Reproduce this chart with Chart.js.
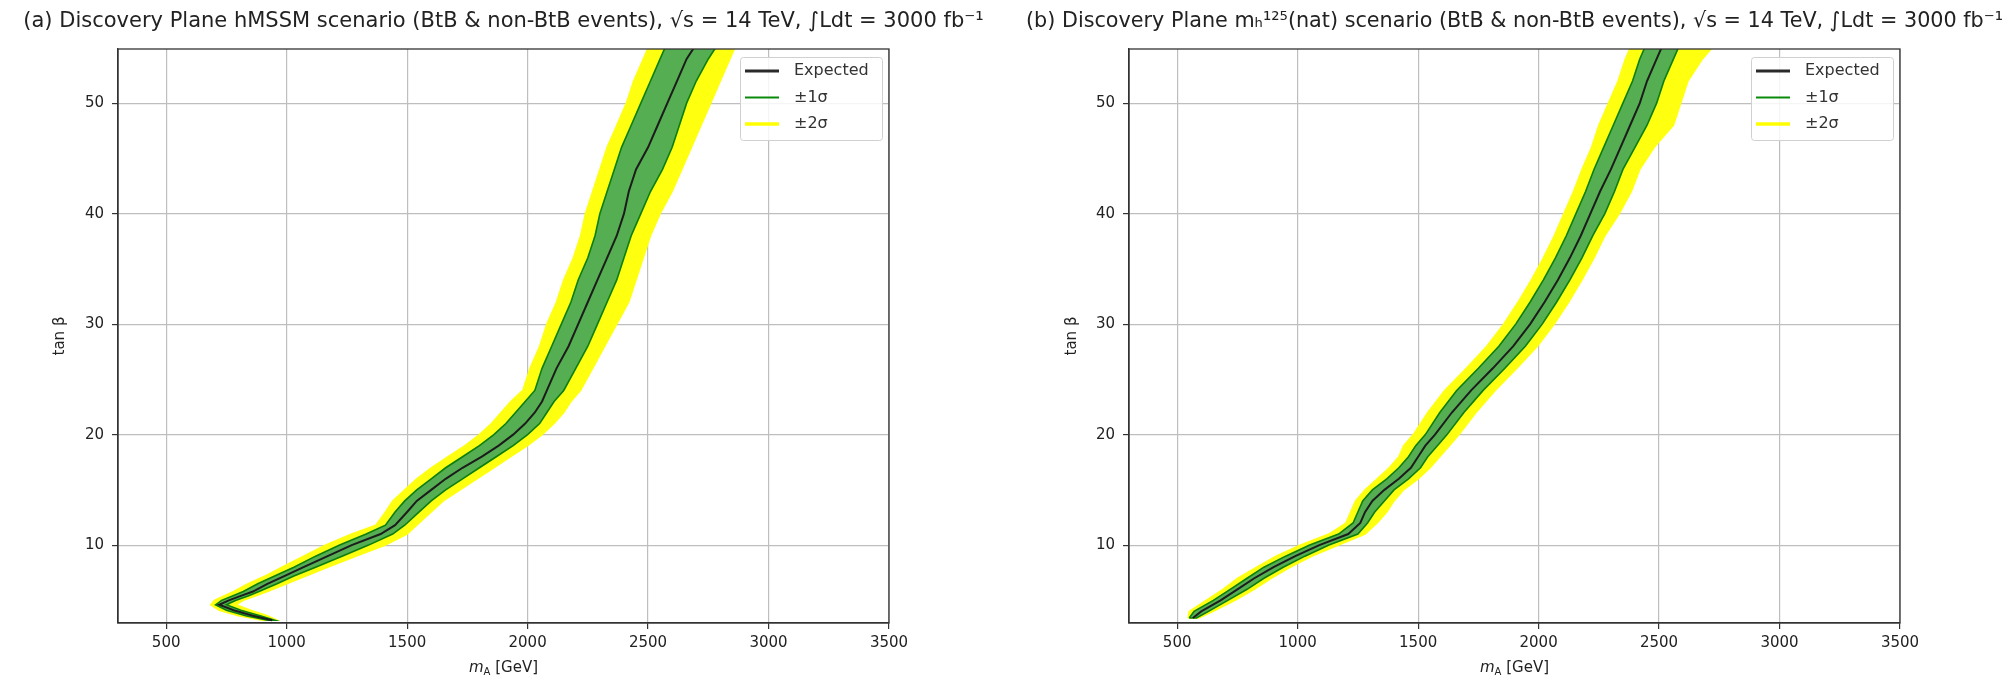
<!DOCTYPE html>
<html>
<head>
<meta charset="utf-8">
<script src="https://cdn.jsdelivr.net/npm/chart.js@4/dist/chart.umd.min.js"></script>
<style>
  body { margin: 0; background: #fff; }
  #wrap { position: relative; width: 2003px; height: 681px; }
  canvas { position: absolute; top: 0; }
</style>
</head>
<body>
<div id="wrap">
  <canvas id="chartA" width="1007" height="681" style="left:0"></canvas>
  <canvas id="chartB" width="977" height="681" style="left:1026px"></canvas>
</div>
<script>
// tick labels
const xTicks = [500, 1000, 1500, 2000, 2500, 3000, 3500];
const yTicks = [10, 20, 30, 40, 50];
const legendLabels = ['Expected', '\u00b11\u03c3', '\u00b12\u03c3'];

// (a) hMSSM : tan beta samples and m_A values (GeV) of each contour
const aTanb = [3.2, 3.6, 4.1, 4.6, 5.0, 5.4, 5.8, 6.5, 7.2, 8, 9, 10, 11, 11.8, 13, 14, 15, 16, 17, 18, 19, 20, 21, 22, 23, 24, 26, 28, 30, 32, 34, 36, 38, 40, 42, 44, 46, 48, 50, 52, 54, 55];
const aExp = [940, 860, 780, 720, 760, 810, 860, 920, 990, 1070, 1170, 1270, 1390, 1450, 1500, 1540, 1600, 1660, 1730, 1810, 1880, 1940, 1990, 2030, 2060, 2080, 2120, 2170, 2210, 2250, 2290, 2330, 2370, 2400, 2420, 2450, 2500, 2540, 2580, 2620, 2660, 2690];
const aLo1 = [920, 830, 750, 705, 730, 775, 820, 880, 950, 1030, 1120, 1220, 1330, 1410, 1450, 1490, 1540, 1600, 1660, 1730, 1800, 1860, 1910, 1950, 1990, 2030, 2060, 2100, 2140, 2180, 2210, 2250, 2280, 2300, 2330, 2360, 2390, 2430, 2470, 2510, 2550, 2570];
const aHi1 = [950, 890, 810, 750, 790, 840, 885, 960, 1030, 1120, 1230, 1340, 1440, 1490, 1550, 1600, 1660, 1730, 1800, 1870, 1940, 2000, 2050, 2080, 2110, 2150, 2200, 2250, 2290, 2330, 2370, 2400, 2430, 2470, 2510, 2560, 2600, 2630, 2660, 2700, 2750, 2780];
const aLo2 = [900, 800, 720, 685, 700, 740, 780, 840, 910, 980, 1070, 1160, 1270, 1370, 1410, 1440, 1490, 1540, 1600, 1670, 1740, 1800, 1850, 1890, 1930, 1980, 2010, 2050, 2080, 2120, 2150, 2190, 2220, 2240, 2270, 2300, 2330, 2370, 2410, 2440, 2480, 2500];
const aHi2 = [960, 920, 850, 790, 820, 870, 920, 1000, 1080, 1170, 1290, 1410, 1500, 1540, 1600, 1650, 1720, 1790, 1860, 1930, 2000, 2060, 2110, 2150, 2180, 2220, 2270, 2320, 2370, 2420, 2450, 2480, 2510, 2550, 2600, 2640, 2680, 2720, 2760, 2800, 2840, 2860];

// (b) m_h^125(nat)
const bTanb = [3.4, 4, 5, 6, 7, 8, 9, 10, 11, 12, 13, 14, 15, 16, 17, 18, 19, 20, 22, 24, 26, 28, 30, 32, 34, 36, 38, 40, 42, 44, 46, 48, 50, 52, 54, 55];
const bExp = [565, 600, 680, 750, 820, 900, 990, 1090, 1210, 1260, 1280, 1310, 1360, 1420, 1470, 1500, 1530, 1570, 1640, 1720, 1810, 1895, 1965, 2025, 2080, 2130, 2175, 2215, 2255, 2300, 2340, 2380, 2420, 2450, 2490, 2510];
const bLo1 = [550, 570, 650, 720, 790, 860, 950, 1050, 1170, 1230, 1250, 1270, 1310, 1370, 1420, 1460, 1490, 1530, 1590, 1660, 1750, 1835, 1905, 1965, 2020, 2070, 2115, 2155, 2195, 2230, 2270, 2310, 2350, 2390, 2420, 2440];
const bHi1 = [580, 630, 710, 790, 860, 940, 1030, 1130, 1250, 1290, 1320, 1360, 1400, 1460, 1510, 1540, 1580, 1620, 1690, 1770, 1860, 1945, 2015, 2075, 2130, 2180, 2225, 2275, 2315, 2350, 2400, 2450, 2490, 2520, 2560, 2580];
const bLo2 = [545, 550, 620, 690, 750, 830, 910, 1010, 1130, 1200, 1220, 1240, 1280, 1330, 1380, 1420, 1440, 1480, 1540, 1610, 1700, 1785, 1855, 1915, 1970, 2020, 2065, 2105, 2145, 2180, 2220, 2250, 2290, 2330, 2360, 2380];
const bHi2 = [590, 650, 740, 820, 890, 970, 1060, 1170, 1280, 1330, 1370, 1400, 1440, 1500, 1550, 1590, 1630, 1670, 1740, 1820, 1910, 1995, 2065, 2125, 2180, 2230, 2275, 2335, 2385, 2420, 2480, 2560, 2590, 2620, 2680, 2720];

const titleA = '(a) Discovery Plane hMSSM scenario (BtB & non-BtB events), \u221as = 14 TeV, \u222bLdt = 3000 fb\u207b\u00b9';
const titleB = '(b) Discovery Plane m\u2095\u00b9\u00b2\u2075(nat) scenario (BtB & non-BtB events), \u221as = 14 TeV, \u222bLdt = 3000 fb\u207b\u00b9';

const FONT = 'DejaVu Sans';
const expColor = '#1c1c1c';
const oneSigEdge = '#0b7f0b';
const oneSigFill = 'rgb(86,174,82)';
const twoSigColor = '#ffff10';
const gridColor = '#bebebe';

Chart.defaults.font.family = FONT;
Chart.defaults.color = '#222';

function line(tanb, mA) {
    return tanb.map((t, i) => ({x: mA[i], y: t}));
}

// closed outline: up the low edge, back down the high edge
function band(tanb, lo, hi) {
    const pts = tanb.map((t, i) => ({x: lo[i], y: t}));
    for (let i = tanb.length - 1; i >= 0; i--) {
        pts.push({x: hi[i], y: tanb[i]});
    }
    pts.push(pts[0]);
    return pts;
}

const frame = {
    id: 'frame',
    afterDatasetsDraw(chart) {
        const {ctx, chartArea: a} = chart;
        ctx.save();
        ctx.strokeStyle = '#333';
        ctx.lineWidth = 1.3;
        ctx.strokeRect(a.left, a.top, a.right - a.left, a.bottom - a.top);
        ctx.restore();
    }
};

const innerLegend = {
    id: 'innerLegend',
    afterDraw(chart) {
        const {ctx, chartArea: a} = chart;
        const w = 142, h = 83;
        const x = a.right - 7 - w, y = a.top + 8;
        ctx.save();
        ctx.fillStyle = 'rgba(255,255,255,0.85)';
        ctx.strokeStyle = '#d0d0d0';
        ctx.lineWidth = 1;
        ctx.beginPath();
        ctx.roundRect(x + 0.5, y + 0.5, w, h, 3);
        ctx.fill();
        ctx.stroke();
        const styles = [
            {color: '#2a2a2a', width: 3},
            {color: '#0a8a0a', width: 2},
            {color: '#ffff00', width: 3.5}
        ];
        ctx.font = '16px ' + FONT;
        ctx.textBaseline = 'middle';
        legendLabels.forEach((label, i) => {
            const ly = y + 14 + i * 26.5;
            ctx.strokeStyle = styles[i].color;
            ctx.lineWidth = styles[i].width;
            ctx.beginPath();
            ctx.moveTo(x + 5, ly);
            ctx.lineTo(x + 39, ly);
            ctx.stroke();
            ctx.fillStyle = '#333';
            ctx.fillText(label, x + 54, ly);
        });
        ctx.restore();
    }
};

// x label with italic m and subscript A
const xLabel = {
    id: 'xLabel',
    afterDraw(chart) {
        const {ctx, chartArea: a} = chart;
        const cx = (a.left + a.right) / 2, cy = 667;
        ctx.save();
        ctx.fillStyle = '#222';
        ctx.textBaseline = 'alphabetic';
        const f1 = 'italic 15px ' + FONT, f2 = '10px ' + FONT, f3 = '15px ' + FONT;
        ctx.font = f1; const w1 = ctx.measureText('m').width;
        ctx.font = f2; const w2 = ctx.measureText('A').width;
        ctx.font = f3; const w3 = ctx.measureText(' [GeV]').width;
        let x = cx - (w1 + w2 + w3) / 2;
        const base = cy + 5;
        ctx.font = f1; ctx.fillText('m', x, base); x += w1;
        ctx.font = f2; ctx.fillText('A', x, base + 3); x += w2;
        ctx.font = f3; ctx.fillText(' [GeV]', x, base);
        ctx.restore();
    }
};

function makeChart(id, title, tanb, exp, lo1, hi1, lo2, hi2, axisW, yTitlePad) {
    return new Chart(document.getElementById(id), {
        type: 'line',
        data: {
            datasets: [
                {
                    label: 'Expected',
                    data: line(tanb, exp),
                    borderColor: expColor,
                    borderWidth: 2,
                    pointRadius: 0,
                    fill: false,
                    order: 0
                },
                {
                    label: '\u00b11\u03c3',
                    data: band(tanb, lo1, hi1),
                    borderColor: oneSigEdge,
                    borderWidth: 1.6,
                    backgroundColor: oneSigFill,
                    pointRadius: 0,
                    fill: 'shape',
                    order: 1
                },
                {
                    label: '\u00b12\u03c3',
                    data: band(tanb, lo2, hi2),
                    borderColor: twoSigColor,
                    borderWidth: 1.5,
                    backgroundColor: twoSigColor,
                    pointRadius: 0,
                    fill: 'shape',
                    order: 2
                }
            ]
        },
        options: {
            responsive: false,
            animation: false,
            events: [],
            layout: {padding: 0},
            plugins: {
                legend: {display: false},
                tooltip: {enabled: false},
                title: {
                    display: true,
                    text: title,
                    fullSize: true,
                    font: {size: 21, weight: 'normal', family: FONT},
                    color: '#222',
                    padding: {top: 9.4, bottom: 14.4}
                }
            },
            scales: {
                x: {
                    type: 'linear',
                    min: 300,
                    max: 3500,
                    afterBuildTicks: s => { s.ticks = xTicks.map(v => ({value: v})); },
                    afterFit: s => { s.height = 58; },
                    ticks: {font: {size: 15}, color: '#222', padding: 5, maxRotation: 0, autoSkip: false, callback: v => String(v)},
                    grid: {color: gridColor, lineWidth: 1.2, tickLength: 6, tickColor: '#333', tickWidth: 1.2},
                    border: {color: '#333', width: 1.3}
                },
                y: {
                    type: 'linear',
                    min: 2.95,
                    max: 54.9,
                    afterBuildTicks: s => { s.ticks = yTicks.map(v => ({value: v})); },
                    afterFit: s => { s.width = axisW; },
                    ticks: {font: {size: 15}, color: '#222', padding: 8, callback: v => String(v)},
                    grid: {color: gridColor, lineWidth: 1.2, tickLength: 6, tickColor: '#333', tickWidth: 1.2},
                    border: {color: '#333', width: 1.3},
                    title: {display: true, text: 'tan \u03b2', font: {size: 15}, color: '#222', padding: {top: yTitlePad, bottom: 0}}
                },
                // empty right-hand axis, only reserves the margin so the title stays centred
                yPad: {
                    position: 'right',
                    display: true,
                    grid: {display: false, drawTicks: false},
                    border: {display: false},
                    ticks: {display: false},
                    afterFit: s => { s.width = axisW; }
                }
            }
        },
        plugins: [frame, innerLegend, xLabel]
    });
}

makeChart('chartA', titleA, aTanb, aExp, aLo1, aHi1, aLo2, aHi2, 118, 51);
makeChart('chartB', titleB, bTanb, bExp, bLo1, bHi1, bLo2, bHi2, 103, 37);
</script>
</body>
</html>
